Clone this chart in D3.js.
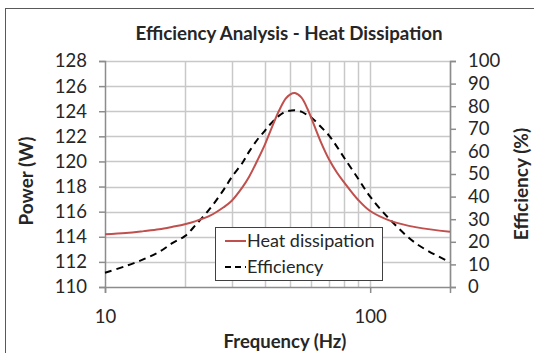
<!DOCTYPE html>
<html><head><meta charset="utf-8">
<script src="https://cdn.jsdelivr.net/npm/d3@7"></script>
<style>
html,body{margin:0;padding:0;background:#fff;}
svg text{font-family:Lato,"Open Sans",sans-serif;fill:#262626;}
</style></head>
<body>
<svg id="c" width="534" height="353"></svg>
<script>
const freq = [10,12,14,16,18,20,22,25,28,30,33,35,38,40,42,45,48,50,52,55,58,60,65,70,75,80,90,100,120,150,200];
const heat = [114.2,114.3,114.45,114.6,114.8,115.0,115.25,115.7,116.35,116.85,117.95,118.8,120.3,121.3,122.4,123.9,125.0,125.35,125.45,125.1,124.2,123.45,121.6,120.15,119.1,118.3,116.95,116.05,115.25,114.75,114.4];
const efficiency = [6.3,9.3,12.3,15.5,19.5,22.5,27.5,35,43,48.5,55,60,66,69,72,75.5,77.6,78,78.2,77.6,76,75,71,67,62,57,48,40,29.3,19,11];
const powerTicks = [110,112,114,116,118,120,122,124,126,128];
const effTicks = [0,10,20,30,40,50,60,70,80,90,100];
const freqGrid = [20,30,40,50,60,70,80,90,100,200];
const freqLabels = [10,100];
const seriesNames = ["Heat dissipation","Efficiency"];

const svg = d3.select("#c");
const L=105, R=450, T=61, B=287;
const x = d3.scaleLog().domain([10,200]).range([L,R]);
const yP = d3.scaleLinear().domain([110,128]).range([B,T]);
const yE = d3.scaleLinear().domain([0,100]).range([B,T]);

// outer border
svg.append("rect").attr("x",5.5).attr("y",8.5).attr("width",540).attr("height",360)
  .attr("fill","none").attr("stroke","#595959").attr("stroke-width",1);

// grid
svg.append("g").selectAll("line").data(powerTicks.slice(1)).join("line")
  .attr("x1",L).attr("x2",R).attr("y1",d=>Math.round(yP(d))+0.5).attr("y2",d=>Math.round(yP(d))+0.5)
  .attr("stroke","#c8c8c8").attr("stroke-width",1.5);
svg.append("g").selectAll("line").data(freqGrid).join("line")
  .attr("x1",d=>Math.round(x(d))+0.5).attr("x2",d=>Math.round(x(d))+0.5).attr("y1",T).attr("y2",B)
  .attr("stroke","#c8c8c8").attr("stroke-width",1.5);

// axes
const axColor="#8c8c8c";
const gl = svg.append("g").attr("transform",`translate(${L},0)`)
  .call(d3.axisLeft(yP).tickValues(powerTicks).tickSize(6).tickPadding(12).tickFormat(d3.format("d")));
const gr = svg.append("g").attr("transform",`translate(${R},0)`)
  .call(d3.axisRight(yE).tickValues(effTicks).tickSize(6).tickPadding(12).tickFormat(d3.format("d")));
const gb = svg.append("g").attr("transform",`translate(0,${B})`)
  .call(d3.axisBottom(x).tickValues(freqLabels).tickSize(6).tickPadding(17).tickFormat(d3.format("d")));
[gl,gr,gb].forEach(g=>{
  g.select(".domain").attr("stroke",axColor).attr("stroke-width",1.5);
  g.selectAll(".tick line").attr("stroke",axColor).attr("stroke-width",1.5);
  g.selectAll(".tick text").attr("fill","#262626").style("font-size","18.5px").style("font-family","Lato");
});

// lines
const lineH = d3.line().x((d,i)=>x(freq[i])).y(d=>yP(d)).curve(d3.curveCatmullRom.alpha(0.5));
const lineE = d3.line().x((d,i)=>x(freq[i])).y(d=>yE(d)).curve(d3.curveCatmullRom.alpha(0.5));
svg.append("path").datum(efficiency).attr("d",lineE).attr("fill","none")
  .attr("stroke","#000").attr("stroke-width",2).attr("stroke-dasharray","7,5");
svg.append("path").datum(heat).attr("d",lineH).attr("fill","none")
  .attr("stroke","#c0504d").attr("stroke-width",2);

// title
svg.append("text").attr("x",289).attr("y",40).attr("text-anchor","middle")
  .style("font-size","18.7px").style("font-weight","bold").text("Efficiency Analysis - Heat Dissipation");
// axis titles
svg.append("text").attr("transform","translate(33,181) rotate(-90)").attr("text-anchor","middle")
  .style("font-size","19px").style("font-weight","bold").text("Power (W)");
svg.append("text").attr("transform","translate(528,184) rotate(-90)").attr("text-anchor","middle")
  .style("font-size","19px").style("font-weight","bold").text("Efficiency (%)");
svg.append("text").attr("x",285).attr("y",348).attr("text-anchor","middle")
  .style("font-size","18.5px").style("font-weight","bold").text("Frequency (Hz)");

// legend
const lg = svg.append("g");
lg.append("rect").attr("x",215.5).attr("y",227.5).attr("width",167).attr("height",53)
  .attr("fill","#fff").attr("stroke","#404040").attr("stroke-width",1);
const items = [{n:seriesNames[0],c:"#c0504d",dash:null,y:241},{n:seriesNames[1],c:"#000",dash:"6,4",y:267}];
items.forEach(it=>{
  lg.append("line").attr("x1",225).attr("x2",246).attr("y1",it.y).attr("y2",it.y)
    .attr("stroke",it.c).attr("stroke-width",2).attr("stroke-dasharray",it.dash);
  lg.append("text").attr("x",247).attr("y",it.y+6).style("font-size","18px").text(it.n);
});
</script>
</body></html>
